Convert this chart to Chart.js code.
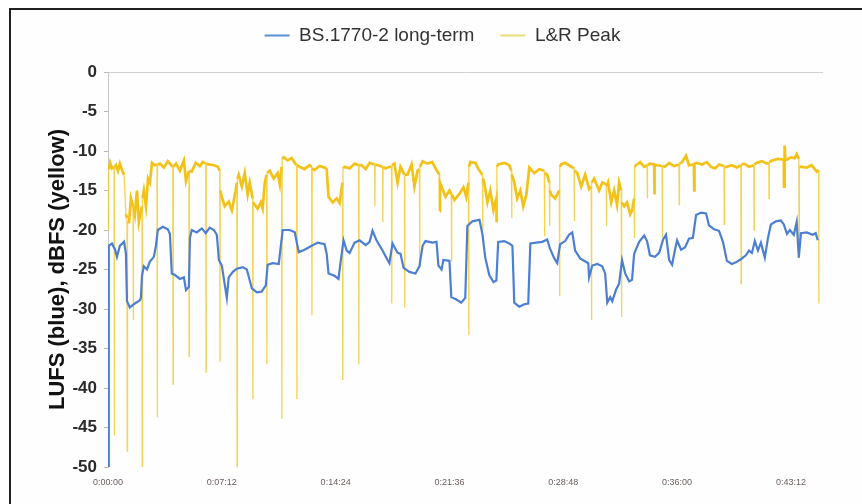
<!DOCTYPE html>
<html>
<head>
<meta charset="utf-8">
<script src="https://cdn.jsdelivr.net/npm/chart.js@4.4.1/dist/chart.umd.min.js"></script>
<style>
  html, body { margin: 0; padding: 0; background: #fff; overflow: hidden; }
  #frame {
    position: absolute; left: 9px; top: 8px; width: 860px; height: 520px;
    border: 2px solid #222; box-sizing: border-box; background: #fefefe;
  }
  #wrap { position: absolute; left: 11px; top: 10px; width: 851px; height: 494px; }
</style>
</head>
<body>
<div id="frame"></div>
<div id="wrap"><canvas id="loudChart"></canvas></div>
<script>
// time in seconds
const tickSeconds = [0, 432, 864, 1296, 1728, 2160, 2592];
const tickLabels = ['0:00:00', '0:07:12', '0:14:24', '0:21:36', '0:28:48', '0:36:00', '0:43:12'];
const seriesNames = ['BS.1770-2 long-term', 'L&R Peak'];

// [seconds, LUFS]
const longTerm = [
  [0,-50],[3,-22],[15,-21.7],[27,-22.5],[34,-23.4],[45,-22],[61,-21.5],[68,-23],[72,-29],[83,-29.8],
  [102,-29.3],[121,-28.9],[125,-28.6],[129,-25.8],[136,-24.6],[148,-25],[159,-24],[174,-23.4],[182,-22],[189,-20],
  [208,-19.6],[227,-19.9],[235,-20.5],[242,-25.5],[254,-25.7],[273,-26.2],[288,-26],[296,-27.6],[307,-27.2],[311,-21],
  [318,-20],[337,-20.3],[356,-19.8],[371,-20.4],[386,-19.7],[402,-20],[413,-20.6],[421,-23.8],[432,-24.5],[451,-28.6],
  [458,-26],[474,-25.3],[489,-24.9],[512,-24.7],[527,-25],[546,-27.4],[565,-27.9],[583,-27.8],[599,-27],[606,-24.4],
  [625,-24.2],[648,-24.3],[656,-22],[663,-20],[690,-20],[709,-20.3],[716,-21.5],[724,-22.8],[746,-22.5],[773,-22],
  [796,-21.6],[822,-21.8],[830,-23],[837,-25.5],[860,-25.8],[875,-26.2],[883,-24],[894,-21.3],[906,-22.6],[917,-22.9],
  [936,-21.6],[955,-21.3],[978,-21.9],[993,-21.5],[1004,-20.1],[1019,-21.3],[1042,-22.6],[1061,-23.8],[1068,-24.2],[1080,-21.7],
  [1099,-22.9],[1110,-23],[1122,-24.8],[1144,-25.3],[1167,-25.5],[1182,-24.6],[1194,-22],[1205,-21.4],[1231,-21.6],[1247,-21.5],
  [1254,-24.5],[1266,-25],[1273,-23.8],[1296,-23.9],[1303,-28.5],[1322,-28.8],[1341,-29.2],[1356,-28.6],[1364,-19.5],[1383,-18.9],
  [1410,-18.7],[1421,-20.5],[1432,-23.5],[1447,-25.7],[1463,-26.6],[1474,-26.4],[1481,-21.5],[1504,-21.4],[1523,-21.7],[1535,-22],
  [1542,-29.2],[1561,-29.7],[1580,-29.4],[1595,-29.3],[1603,-21.7],[1626,-21.6],[1648,-21.5],[1667,-21.2],[1678,-22.4],[1694,-23.6],
  [1705,-24.2],[1716,-21.8],[1735,-21.4],[1750,-20.6],[1762,-20.3],[1773,-22.6],[1792,-23.6],[1807,-23.9],[1823,-24.2],[1826,-26],
  [1838,-24.5],[1857,-24.3],[1876,-24.6],[1887,-25.5],[1895,-29.2],[1906,-28.5],[1914,-29],[1929,-27.5],[1940,-26.8],[1951,-23.8],
  [1963,-25.5],[1978,-26.5],[1989,-26.3],[1997,-23],[2016,-21.5],[2035,-20.7],[2046,-21.4],[2057,-23.2],[2076,-23.4],[2092,-22.9],
  [2107,-21.2],[2118,-20.6],[2130,-23.8],[2141,-24.4],[2152,-22.5],[2160,-21.3],[2175,-22.5],[2190,-22.2],[2205,-21.1],[2220,-21],
  [2232,-18.1],[2251,-17.8],[2270,-17.9],[2281,-19.4],[2300,-19.9],[2319,-20.1],[2334,-21.5],[2349,-23.9],[2368,-24.3],[2383,-24.1],
  [2402,-23.7],[2421,-23.2],[2433,-22.6],[2444,-22.9],[2455,-21.4],[2467,-22.6],[2478,-21.6],[2493,-23.5],[2505,-21],[2516,-19.3],
  [2535,-18.9],[2554,-18.8],[2565,-19.3],[2577,-20.5],[2588,-20],[2603,-20.6],[2614,-19],[2622,-23.5],[2630,-20.4],[2652,-20.3],
  [2675,-20.6],[2686,-20.4],[2694,-21.3]
];

// [seconds, dBFS]
const lrPeak = [
  [0,-12],[1,-20],[3,-12.3],[8,-11.5],[15,-12.2],[23,-12],[24,-46],[25,-12],[30,-11.8],[38,-12.5],
  [45,-11.6],[53,-12.4],[61,-13],[68,-18],[72,-18.5],[73,-48],[74,-19],[80,-19],[87,-16],[95,-17],
  [96,-31.4],[97,-17],[102,-18],[110,-15],[117,-19],[129,-17],[130,-50],[131,-16],[136,-15],[144,-17],
  [152,-13.5],[159,-14],[167,-11.5],[178,-11.8],[186,-11.7],[187,-43.7],[188,-11.7],[197,-11.6],[212,-12.1],[227,-11.3],
  [246,-12],[247,-39.5],[248,-12],[258,-11.6],[273,-12.5],[288,-11.2],[296,-13.8],[307,-12.5],[308,-36],[309,-12.5],
  [318,-12.6],[333,-11.5],[349,-11.9],[360,-11.4],[371,-11.6],[372,-38],[373,-11.6],[383,-11.7],[402,-11.8],[417,-12],
  [424,-12.5],[425,-36.7],[426,-15],[432,-15.8],[443,-17],[458,-16.4],[470,-17.5],[485,-15],[489,-14],[490,-50],
  [491,-13.5],[496,-13],[508,-14.5],[519,-12.8],[530,-15.5],[538,-14],[549,-16],[550,-41.4],[551,-16.5],[557,-16.8],
  [568,-17.3],[580,-16.5],[587,-17.3],[595,-14],[602,-13],[603,-37],[604,-12.8],[614,-12.5],[629,-13.5],[644,-12.8],
  [652,-14.2],[659,-12],[660,-43.9],[661,-11],[667,-10.8],[682,-11.2],[697,-10.9],[709,-11.5],[716,-11.8],[717,-41.4],
  [718,-11.8],[727,-12],[746,-12.3],[765,-11.8],[773,-12],[774,-30.8],[775,-12.2],[784,-12.4],[803,-11.9],[822,-12.1],
  [830,-12.3],[837,-15.8],[853,-16.5],[868,-16],[879,-16.6],[890,-14],[891,-39],[892,-12.2],[898,-12],[917,-12.2],
  [936,-11.6],[951,-11.8],[952,-37],[953,-11.8],[962,-11.8],[978,-12.3],[993,-11.5],[1012,-11.7],[1013,-17],[1014,-11.7],
  [1023,-11.8],[1042,-12],[1043,-19],[1044,-12],[1053,-12.2],[1068,-12],[1076,-12],[1077,-29.3],[1078,-11.8],[1087,-11.6],
  [1099,-14],[1110,-12],[1125,-13],[1126,-29.8],[1127,-13],[1137,-13],[1152,-11.7],[1163,-14.5],[1175,-12.5],[1182,-12.3],
  [1183,-24.7],[1184,-12],[1194,-11.3],[1212,-11.6],[1231,-11.4],[1243,-12.2],[1258,-13],[1259,-17.6],[1260,-14],[1266,-14.5],
  [1281,-15.8],[1296,-15],[1303,-15.5],[1304,-24],[1305,-15.5],[1315,-16.2],[1334,-15.4],[1349,-14.6],[1360,-15.8],[1368,-14],
  [1369,-33.3],[1370,-12],[1375,-11.4],[1394,-11.5],[1406,-12.3],[1421,-13],[1422,-20],[1423,-13.5],[1428,-14],[1440,-16.5],
  [1451,-15],[1463,-17.5],[1474,-16],[1475,-19],[1476,-12],[1481,-11.7],[1504,-11.5],[1523,-11.8],[1531,-12.5],[1532,-18.5],
  [1533,-13],[1542,-14],[1553,-16],[1565,-15],[1576,-17],[1588,-15.5],[1599,-12.1],[1618,-12.8],[1637,-12.3],[1656,-12.5],
  [1657,-20.8],[1658,-12.8],[1667,-13],[1675,-14],[1676,-19.5],[1677,-15],[1682,-15.5],[1697,-16],[1713,-15],[1714,-28.4],
  [1715,-12],[1720,-11.7],[1735,-11.5],[1754,-11.9],[1769,-12.2],[1770,-18.9],[1771,-12.5],[1781,-12.8],[1796,-14.5],[1811,-13],
  [1826,-14.8],[1834,-14.5],[1835,-31.4],[1836,-14],[1845,-13.5],[1864,-15],[1876,-14],[1891,-14.2],[1892,-19.5],[1893,-14.5],
  [1898,-14],[1910,-16.5],[1921,-15],[1932,-16.8],[1940,-14],[1948,-15],[1949,-31],[1950,-16.5],[1959,-17],[1970,-16.5],
  [1982,-18],[1989,-17.5],[1997,-16],[1998,-21],[1999,-12],[2004,-11.8],[2020,-11.4],[2035,-12],[2046,-11.8],[2047,-16],
  [2048,-11.8],[2057,-11.6],[2073,-11.7],[2074,-15.5],[2075,-11.7],[2084,-11.8],[2103,-11.9],[2104,-21],[2105,-11.9],[2114,-12],
  [2130,-11.5],[2148,-11.9],[2167,-11.7],[2168,-16.8],[2169,-11.6],[2179,-11.4],[2194,-10.6],[2205,-11.8],[2224,-11.7],[2225,-15],
  [2226,-11.6],[2235,-11.5],[2254,-11.7],[2273,-11.4],[2289,-12],[2304,-12.2],[2319,-11.7],[2338,-11.9],[2339,-19.3],[2340,-12],
  [2349,-12],[2368,-11.8],[2387,-12.1],[2402,-11.8],[2403,-26.8],[2404,-11.7],[2414,-11.6],[2433,-12],[2451,-11.8],[2452,-20],
  [2453,-11.7],[2463,-11.5],[2482,-11.3],[2501,-11.6],[2508,-11.5],[2509,-16],[2510,-11.4],[2520,-11.2],[2542,-11],[2565,-11.1],
  [2566,-14.5],[2567,-11.1],[2569,-9.3],[2571,-11],[2577,-11.1],[2592,-10.8],[2607,-10.9],[2614,-10.4],[2622,-11],[2623,-23.5],
  [2624,-12],[2633,-12],[2652,-12.1],[2671,-11.8],[2690,-12.6],[2697,-12.4],[2698,-29.3]
];

const toXY = (pairs) => pairs.map(([x, y]) => ({ x: x, y: y }));
const steep = (c) => Math.abs(c.p1.parsed.y - c.p0.parsed.y) > 4;
const PAD_TOP = -10;

const ctx = document.getElementById('loudChart').getContext('2d');

new Chart(ctx, {
  type: 'line',
  data: {
    datasets: [{
      label: seriesNames[0],
      data: toXY(longTerm),
      borderColor: '#4c7fd2',
      borderWidth: 2.2,
      pointRadius: 0,
      tension: 0
    }, {
      label: seriesNames[1],
      data: toXY(lrPeak),
      borderColor: '#f3c218',
      borderWidth: 2.7,
      pointRadius: 0,
      tension: 0,
      segment: {
        borderWidth: (c) => steep(c) ? 1.3 : undefined,
        borderColor: (c) => steep(c) ? 'rgba(242,200,40,0.8)' : undefined
      }
    }]
  },
  options: {
    responsive: true,
    maintainAspectRatio: false,
    animation: false,
    layout: { padding: { top: PAD_TOP, right: 0, left: 12, bottom: 0 } },
    plugins: {
      tooltip: { enabled: false },
      legend: {
        position: 'top',
        labels: {
          usePointStyle: true,
          pointStyle: 'line',
          pointStyleWidth: 25,
          padding: 26,
          color: '#333',
          font: { family: 'Arial, "Liberation Sans"', size: 19 },
          generateLabels: (chart) => {
            const items = Chart.defaults.plugins.legend.labels.generateLabels(chart);
            items.forEach((it, i) => {
              it.strokeStyle = i === 0 ? '#5a8fd2' : '#e9de74';
              it.lineWidth = 2;
            });
            return items;
          }
        }
      }
    },
    scales: {
      x: {
        type: 'linear',
        min: 0,
        max: 2710,
        afterBuildTicks: (s) => { s.ticks = tickSeconds.map((v) => ({ value: v })); },
        afterFit: (s) => { s.height = 37; },
        border: { display: false },
        grid: { display: false, drawTicks: false },
        ticks: {
          autoSkip: false,
          maxRotation: 0,
          padding: 10,
          color: '#6b5d5d',
          font: { family: 'Arial, "Liberation Sans"', size: 9 },
          callback: (v, i) => tickLabels[i]
        }
      },
      xTop: {
        type: 'linear',
        position: 'top',
        min: 0,
        max: 2710,
        afterFit: (s) => { s.height = 62 - PAD_TOP - s.chart.legend.height; },
        border: { display: true, color: '#d0d0d0', width: 1 },
        grid: { display: false, drawTicks: false },
        ticks: { display: false }
      },
      y: {
        min: -50,
        max: 0,
        afterFit: (s) => { s.width = 85; },
        border: { display: true, color: '#c8c8c8', width: 1 },
        grid: { drawOnChartArea: false, drawTicks: true, tickLength: 4, color: '#c0b8a8' },
        ticks: {
          stepSize: 5,
          padding: 7,
          color: '#2a2a2a',
          font: { family: 'Arial, "Liberation Sans"', size: 17, weight: 'bold' }
        },
        title: {
          display: true,
          text: 'LUFS (blue), dBFS (yellow)',
          color: '#111',
          padding: { top: 22, bottom: 0 },
          font: { family: 'Arial, "Liberation Sans"', size: 22, weight: 'bold' }
        }
      },
      yRight: {
        position: 'right',
        min: -50,
        max: 0,
        afterFit: (s) => { s.width = 40; },
        border: { display: false },
        grid: { display: false },
        ticks: { display: false }
      }
    }
  }
});
</script>
</body>
</html>
